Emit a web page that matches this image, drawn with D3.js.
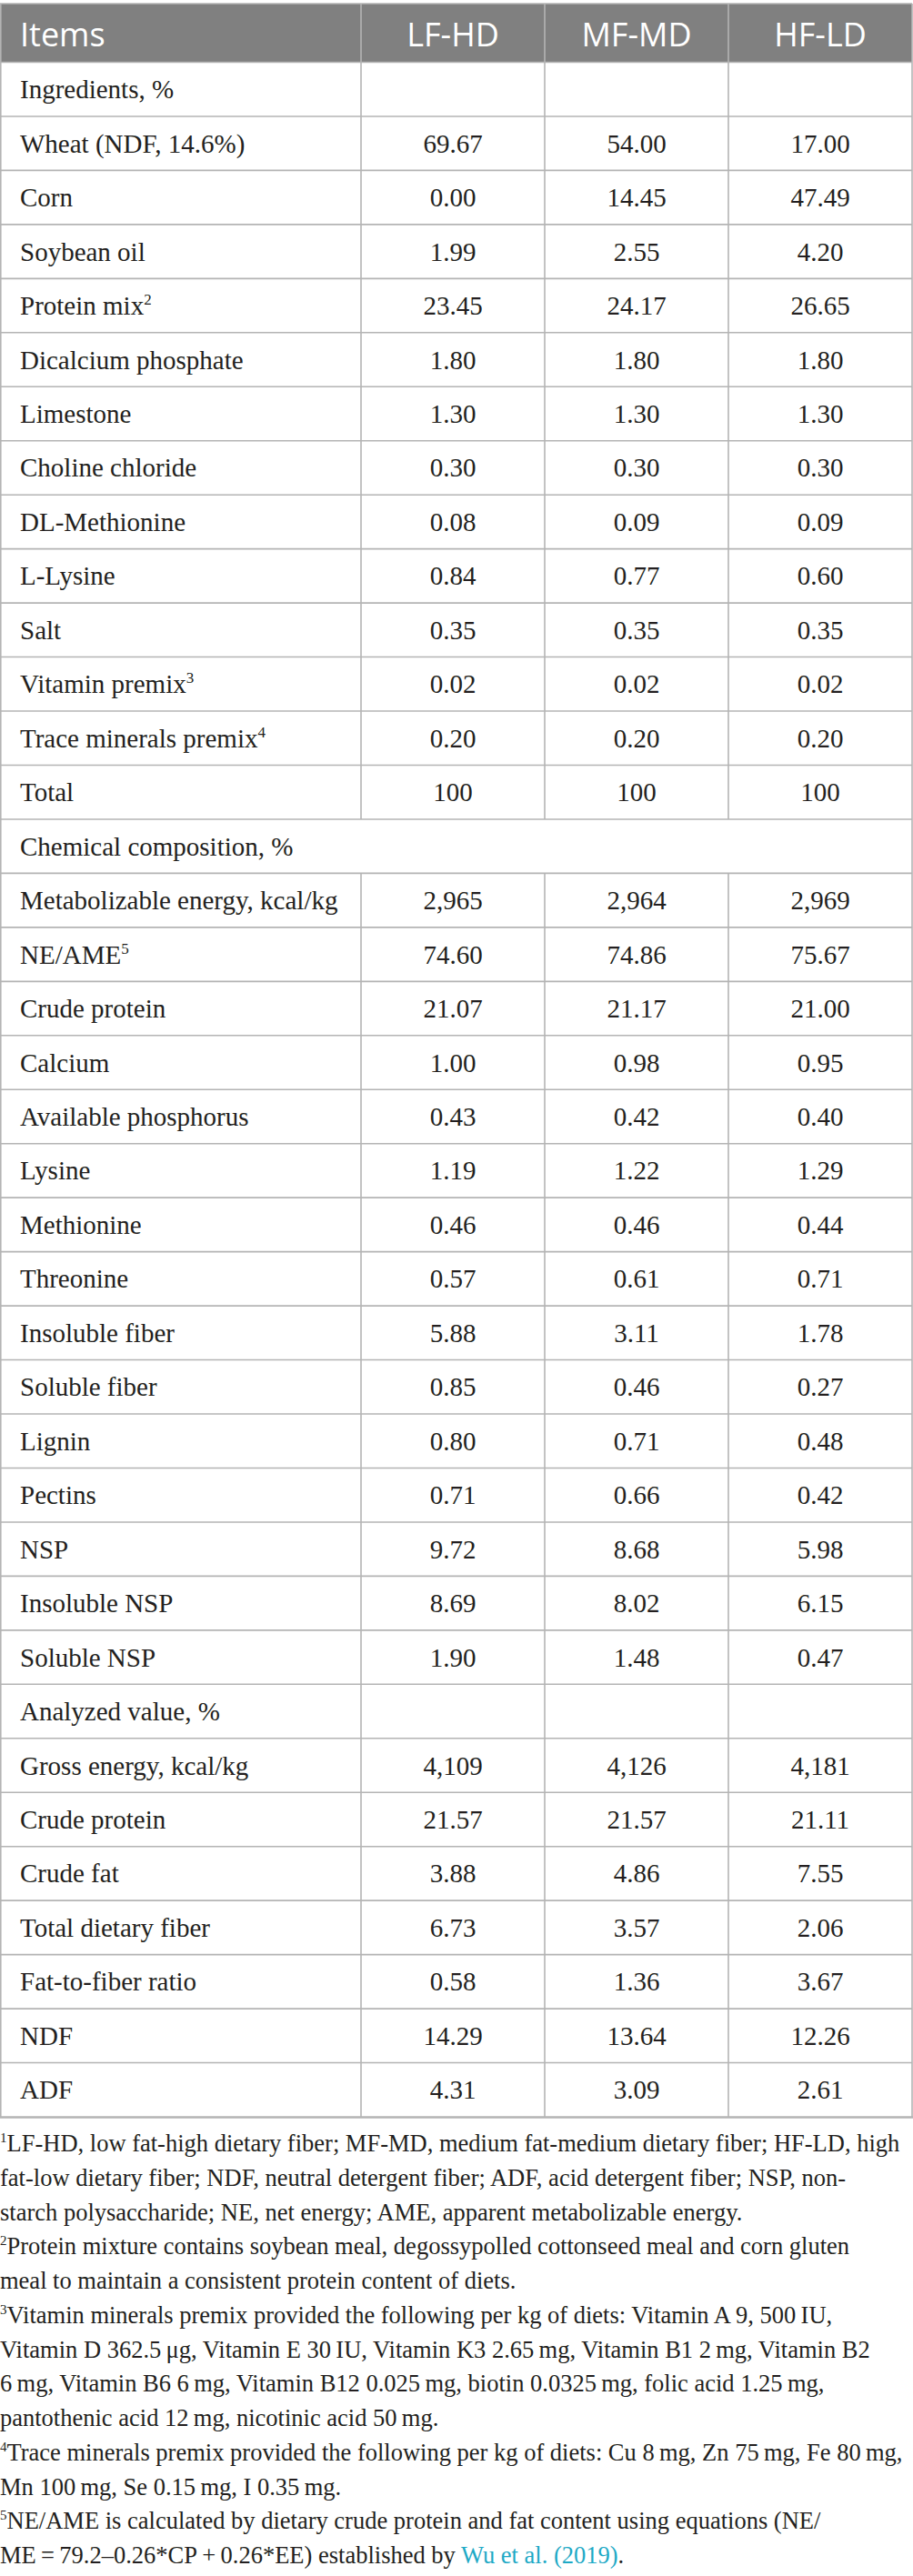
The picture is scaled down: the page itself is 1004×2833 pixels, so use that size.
<!DOCTYPE html>
<html>
<head>
<meta charset="utf-8">
<script src="https://cdn.jsdelivr.net/npm/d3@7/dist/d3.min.js"></script>
<style>
  html, body { margin: 0; padding: 0; background: #fff; }
  svg { display: block; }
</style>
</head>
<body>
<div id="chart"></div>
<script>
// column headers
var columns = ["LF-HD", "MF-MD", "HF-LD"];

// row labels, "^n" marks a footnote superscript
var items = [
  "Ingredients, %", "Wheat (NDF, 14.6%)", "Corn", "Soybean oil", "Protein mix^2",
  "Dicalcium phosphate", "Limestone", "Choline chloride", "DL-Methionine", "L-Lysine",
  "Salt", "Vitamin premix^3", "Trace minerals premix^4", "Total",
  "Chemical composition, %", "Metabolizable energy, kcal/kg", "NE/AME^5", "Crude protein",
  "Calcium", "Available phosphorus", "Lysine", "Methionine", "Threonine", "Insoluble fiber",
  "Soluble fiber", "Lignin", "Pectins", "NSP", "Insoluble NSP", "Soluble NSP",
  "Analyzed value, %", "Gross energy, kcal/kg", "Crude protein", "Crude fat",
  "Total dietary fiber", "Fat-to-fiber ratio", "NDF", "ADF"
];

// rows whose single cell runs across the whole table
var spanRows = ["Chemical composition, %"];

var lfhd = [
  null, "69.67", "0.00", "1.99", "23.45", "1.80", "1.30", "0.30", "0.08", "0.84",
  "0.35", "0.02", "0.20", "100",
  null, "2,965", "74.60", "21.07", "1.00", "0.43", "1.19", "0.46", "0.57", "5.88",
  "0.85", "0.80", "0.71", "9.72", "8.69", "1.90",
  null, "4,109", "21.57", "3.88", "6.73", "0.58", "14.29", "4.31"
];
var mfmd = [
  null, "54.00", "14.45", "2.55", "24.17", "1.80", "1.30", "0.30", "0.09", "0.77",
  "0.35", "0.02", "0.20", "100",
  null, "2,964", "74.86", "21.17", "0.98", "0.42", "1.22", "0.46", "0.61", "3.11",
  "0.46", "0.71", "0.66", "8.68", "8.02", "1.48",
  null, "4,126", "21.57", "4.86", "3.57", "1.36", "13.64", "3.09"
];
var hfld = [
  null, "17.00", "47.49", "4.20", "26.65", "1.80", "1.30", "0.30", "0.09", "0.60",
  "0.35", "0.02", "0.20", "100",
  null, "2,969", "75.67", "21.00", "0.95", "0.40", "1.29", "0.44", "0.71", "1.78",
  "0.27", "0.48", "0.42", "5.98", "6.15", "0.47",
  null, "4,181", "21.11", "7.55", "2.06", "3.67", "12.26", "2.61"
];

// footnote lines as printed: [superscript, text, linked text, tail]
var notes = [
  ["1", "LF-HD, low fat-high dietary fiber; MF-MD, medium fat-medium dietary fiber; HF-LD, high"],
  ["", "fat-low dietary fiber; NDF, neutral detergent fiber; ADF, acid detergent fiber; NSP, non-"],
  ["", "starch polysaccharide; NE, net energy; AME, apparent metabolizable energy."],
  ["2", "Protein mixture contains soybean meal, degossypolled cottonseed meal and corn gluten"],
  ["", "meal to maintain a consistent protein content of diets."],
  ["3", "Vitamin minerals premix provided the following per kg of diets: Vitamin A 9, 500\u2009IU,"],
  ["", "Vitamin D 362.5\u2009\u03bcg, Vitamin E 30\u2009IU, Vitamin K3 2.65\u2009mg, Vitamin B1 2\u2009mg, Vitamin B2"],
  ["", "6\u2009mg, Vitamin B6 6\u2009mg, Vitamin B12 0.025\u2009mg, biotin 0.0325\u2009mg, folic acid 1.25\u2009mg,"],
  ["", "pantothenic acid 12\u2009mg, nicotinic acid 50\u2009mg."],
  ["4", "Trace minerals premix provided the following per kg of diets: Cu 8\u2009mg, Zn 75\u2009mg, Fe 80\u2009mg,"],
  ["", "Mn 100\u2009mg, Se 0.15\u2009mg, I 0.35\u2009mg."],
  ["5", "NE/AME is calculated by dietary crude protein and fat content using equations (NE/"],
  ["", "ME\u2009=\u200979.2\u20130.26*CP\u2009+\u20090.26*EE) established by ", "Wu et al. (2019)", "."]
];

var W = 1004, H = 2833;
var tableTop = 4, headBottom = 68.5, tableBottom = 2328, firstColRight = 397, tableRight = 1003;
var gridColor = "#b4b4b4", headFill = "#808080", ink = "#231f20";
var serif = "'Liberation Serif', 'Times New Roman', serif";
var sans = "'Open Sans', 'Noto Sans', sans-serif";

var svg = d3.select("#chart").append("svg")
    .attr("width", W)
    .attr("height", H);

var y = d3.scaleBand()
    .domain(d3.range(items.length))
    .range([headBottom, tableBottom]);

var x = d3.scaleBand()
    .domain(columns)
    .range([firstColRight, tableRight]);

var series = { "LF-HD": lfhd, "MF-MD": mfmd, "HF-LD": hfld };

// header band
svg.append("rect")
    .attr("x", 0).attr("y", tableTop)
    .attr("width", tableRight).attr("height", headBottom - tableTop)
    .attr("fill", headFill);

svg.append("text")
    .attr("x", 22).attr("y", (tableTop + headBottom) / 2 + 14.5)
    .attr("font-family", sans).attr("font-size", 36)
    .attr("fill", "#fff")
    .text("Items");

svg.selectAll("text.head")
    .data(columns)
    .join("text")
    .attr("class", "head")
    .attr("x", function (d) { return x(d) + x.bandwidth() / 2; })
    .attr("y", (tableTop + headBottom) / 2 + 14.5)
    .attr("text-anchor", "middle")
    .attr("font-family", sans).attr("font-size", 36)
    .attr("fill", "#fff")
    .text(function (d) { return d; });

// horizontal rules
var grid = svg.append("g")
    .attr("stroke", gridColor)
    .attr("stroke-width", 1.6)
    .attr("fill", "none");

grid.selectAll("line.h")
    .data(d3.range(items.length))
    .join("line")
    .attr("class", "h")
    .attr("x1", 0).attr("x2", tableRight)
    .attr("y1", function (i) { return y(i); })
    .attr("y2", function (i) { return y(i); });

// column dividers, skipped where a row spans the table
var segs = [];
[firstColRight].concat(columns.slice(1).map(function (c) { return x(c); })).forEach(function (cx) {
    segs.push({ x: cx, y1: tableTop, y2: headBottom });
    items.forEach(function (name, i) {
        if (spanRows.indexOf(name) < 0) {
            segs.push({ x: cx, y1: y(i), y2: y(i) + y.bandwidth() });
        }
    });
});

grid.selectAll("line.v")
    .data(segs)
    .join("line")
    .attr("class", "v")
    .attr("x1", function (d) { return d.x; })
    .attr("x2", function (d) { return d.x; })
    .attr("y1", function (d) { return d.y1; })
    .attr("y2", function (d) { return d.y2; });

// outer frame
grid.append("line").attr("x1", 0).attr("x2", tableRight).attr("y1", tableTop).attr("y2", tableTop);
grid.append("line").attr("x1", 0.8).attr("x2", 0.8).attr("y1", tableTop).attr("y2", tableBottom);
grid.append("line").attr("x1", tableRight).attr("x2", tableRight).attr("y1", tableTop).attr("y2", tableBottom);
grid.append("line").attr("x1", 0).attr("x2", tableRight + 1)
    .attr("y1", tableBottom + 0.5).attr("y2", tableBottom + 0.5)
    .attr("stroke-width", 2.6);

// row labels
var labels = svg.selectAll("text.item")
    .data(items)
    .join("text")
    .attr("class", "item")
    .attr("x", 22)
    .attr("y", function (d, i) { return y(i) + y.bandwidth() / 2 + 10; })
    .attr("font-family", serif).attr("font-size", 29)
    .attr("fill", ink);

labels.each(function (d) {
    var parts = d.split("^");
    var t = d3.select(this);
    t.append("tspan").text(parts[0]);
    if (parts[1]) {
        t.append("tspan")
            .attr("font-size", 17)
            .attr("dy", -11)
            .text(parts[1]);
    }
});

// cell values
columns.forEach(function (col) {
    svg.selectAll("text.v-" + col)
        .data(series[col].map(function (v, i) { return { v: v, i: i }; })
            .filter(function (d) { return d.v !== null; }))
        .join("text")
        .attr("class", "v-" + col)
        .attr("x", x(col) + x.bandwidth() / 2)
        .attr("y", function (d) { return y(d.i) + y.bandwidth() / 2 + 10; })
        .attr("text-anchor", "middle")
        .attr("font-family", serif).attr("font-size", 29)
        .attr("fill", ink)
        .text(function (d) { return d.v; });
});

// footnotes
var noteTop = 2366, noteStep = 37.75;
var noteText = svg.selectAll("text.note")
    .data(notes)
    .join("text")
    .attr("class", "note")
    .attr("x", 0)
    .attr("y", function (d, i) { return noteTop + i * noteStep; })
    .attr("font-family", serif).attr("font-size", 26.5)
    .attr("fill", ink);

noteText.each(function (d) {
    var t = d3.select(this);
    var shift = 0;
    if (d[0]) {
        t.append("tspan").attr("font-size", 15).attr("dy", -10).text(d[0]);
        shift = 10;
    }
    t.append("tspan").attr("dy", shift).text(d[1]);
    if (d[2]) {
        t.append("tspan").attr("fill", "#1da9c6").text(d[2]);
        t.append("tspan").text(d[3]);
    }
});
</script>
</body>
</html>
